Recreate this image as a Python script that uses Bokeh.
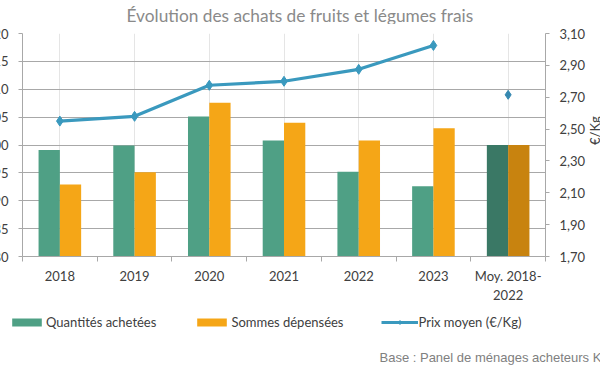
import math
from bokeh.plotting import figure
from bokeh.layouts import column
from bokeh.models import (Range1d, LinearAxis, CategoricalAxis, FixedTicker,
                          CustomJSTickFormatter, Legend, LegendItem, Label,
                          ColumnDataSource, FactorRange)
from bokeh.transform import dodge
from bokeh.embed import file_html
from bokeh.resources import INLINE

# ---------------- data ----------------
title_text = "Évolution des achats de fruits et légumes frais"
years = ["2018", "2019", "2020", "2021", "2022", "2023"]
avg_label = "Moy. 2018-\n2022"
qty = [99.1, 99.9, 105.1, 100.8, 95.2, 92.6]          # Quantités achetées (indice)
spend = [92.9, 95.1, 107.6, 104.0, 100.8, 103.0]      # Sommes dépensées (indice)
price = [2.55, 2.58, 2.775, 2.80, 2.875, 3.025]       # Prix moyen (€/Kg)
avg_qty = [100.0]
avg_spend = [100.0]
avg_price = [2.715]
left_ticks = [80, 85, 90, 95, 100, 105, 110, 115, 120]
price_ticks = [1.70, 1.90, 2.10, 2.30, 2.50, 2.70, 2.90, 3.10]
legend_labels = ["Quantités achetées", "Sommes dépensées", "Prix moyen (€/Kg)"]
unit_label = "€/Kg"
source_note = "Base : Panel de ménages acheteurs Kantar"

# ---------------- style ----------------
GREEN = "#4FA085"
ORANGE = "#F5A617"
DKGREEN = "#3A7865"
DKORANGE = "#C8830F"
BLUE = "#3A99BE"
GRID = "#A8A8A8"
TXT = "#404040"
FONT = "Lato"
FS = "13px"

factors = years + [avg_label]
n = len(factors)

SHIFT_X = 22                         # the chart is cropped on its left side
FL, FR, FT, FB = 22, 545, 33, 257    # frame edges in page px
TOP_H = 24                           # height of the title strip
BOT_Y = 305                          # page y where the legend strip starts
PAGE_H = 370
ymin, ymax = left_ticks[0], left_ticks[-1]

BR = 90
W = FR + SHIFT_X + BR


def no_align(f):
    try:
        f.frame_align = False
    except Exception:
        pass


def strip(y0, y1):
    f = figure(width=W, height=y1 - y0, x_range=Range1d(-SHIFT_X, W - SHIFT_X),
               y_range=Range1d(y1, y0), x_axis_location=None, y_axis_location=None,
               output_backend="svg", toolbar_location=None,
               min_border=0, min_border_left=0, min_border_right=0,
               min_border_top=0, min_border_bottom=0)
    f.outline_line_color = None
    f.xgrid.visible = False
    f.ygrid.visible = False
    f.background_fill_color = "white"
    f.border_fill_color = "white"
    no_align(f)
    return f


# ---------------- title strip ----------------
p0 = strip(0, TOP_H)
p0.add_layout(Label(x=126, y=15, text=title_text, text_align="left",
                    text_baseline="alphabetic", text_font=FONT,
                    text_font_size="17.3px", text_color="#8A8A8A"))

# ---------------- main chart ----------------
p = figure(width=W, height=BOT_Y - TOP_H, x_range=FactorRange(*factors),
           y_range=Range1d(ymin, ymax), x_axis_location=None,
           output_backend="svg", toolbar_location=None,
           min_border_left=FL + SHIFT_X, min_border_right=BR,
           min_border_top=FT - TOP_H, min_border_bottom=BOT_Y - FB)
p.outline_line_color = None
p.background_fill_color = "white"
p.border_fill_color = "white"
p.extra_y_ranges = {"price": Range1d(price_ticks[0], price_ticks[-1])}
no_align(p)


def style_axis(ax):
    ax.axis_line_color = GRID
    ax.major_tick_line_color = GRID
    ax.major_tick_out = 4
    ax.major_tick_in = 0
    ax.minor_tick_line_color = None
    ax.major_label_text_font = FONT
    ax.major_label_text_font_size = FS
    ax.major_label_text_color = TXT
    ax.major_label_standoff = 10


yl = p.yaxis[0]
yl.ticker = FixedTicker(ticks=left_ticks)
style_axis(yl)
p.ygrid.grid_line_color = GRID
p.ygrid.ticker = FixedTicker(ticks=left_ticks)

yr = LinearAxis(y_range_name="price", ticker=FixedTicker(ticks=price_ticks),
                formatter=CustomJSTickFormatter(code="return tick.toFixed(2).replace('.', ',');"))
style_axis(yr)
yr.axis_label = unit_label
yr.axis_label_standoff = 7
yr.axis_label_text_font = FONT
yr.axis_label_text_font_size = FS
yr.axis_label_text_font_style = "normal"
yr.axis_label_text_color = TXT
try:
    yr.axis_label_orientation = math.pi / 2
except Exception:
    pass
p.add_layout(yr, "right")

# tick marks between categories (synthetic category coordinates)
xt = LinearAxis(ticker=FixedTicker(ticks=list(range(n + 1))),
                formatter=CustomJSTickFormatter(code="return '';"))
style_axis(xt)
xt.major_label_text_font_size = "0px"
xt.major_label_standoff = 0
xt.major_tick_out = 5
p.add_layout(xt, "below")

xc = CategoricalAxis()
style_axis(xc)
xc.axis_line_color = None
xc.major_tick_line_color = None
xc.major_tick_out = 0
xc.major_label_standoff = 6
p.add_layout(xc, "below")

src = ColumnDataSource(dict(cat=years, qty=qty, spend=spend, price=price))
src_avg = ColumnDataSource(dict(cat=[avg_label], qty=avg_qty, spend=avg_spend, price=avg_price))
BW = 0.285
off = BW / 2

p.vbar(x=dodge("cat", -off, range=p.x_range), top="qty", bottom=ymin, width=BW,
       fill_color=GREEN, line_color=None, source=src)
p.vbar(x=dodge("cat", off, range=p.x_range), top="spend", bottom=ymin, width=BW,
       fill_color=ORANGE, line_color=None, source=src)
p.vbar(x=dodge("cat", -off, range=p.x_range), top="qty", bottom=ymin, width=BW,
       fill_color=DKGREEN, line_color=None, source=src_avg)
p.vbar(x=dodge("cat", off, range=p.x_range), top="spend", bottom=ymin, width=BW,
       fill_color=DKORANGE, line_color=None, source=src_avg)
p.line(x="cat", y="price", y_range_name="price", source=src,
       line_color=BLUE, line_width=3.2)
p.scatter(x="cat", y="price", y_range_name="price", source=src, marker="diamond",
          size=10, fill_color=BLUE, line_color=BLUE)
p.scatter(x="cat", y="price", y_range_name="price", source=src_avg, marker="diamond",
          size=9, fill_color="#3588B0", line_color="#3588B0")

# ---------------- legend + source strip ----------------
p2 = strip(BOT_Y, PAGE_H)
# legend proxies: one hidden point outside the visible strip, so the legend can draw its glyphs
proxy = ColumnDataSource(dict(x=[-10000.0], y=[-10000.0]))
g_q = p2.vbar(x="x", top="y", width=1, fill_color=GREEN, line_color=None, source=proxy)
g_s = p2.vbar(x="x", top="y", width=1, fill_color=ORANGE, line_color=None, source=proxy)
g_l = p2.line(x="x", y="y", line_color=BLUE, line_width=3, source=proxy)
g_m = p2.scatter(x="x", y="y", marker="diamond", size=7, fill_color=BLUE,
                 line_color=BLUE, source=proxy)

legend = Legend(items=[LegendItem(label=legend_labels[0], renderers=[g_q]),
                       LegendItem(label=legend_labels[1], renderers=[g_s]),
                       LegendItem(label=legend_labels[2], renderers=[g_l, g_m])],
                orientation="horizontal", location=(8 + SHIFT_X, PAGE_H - 330),
                glyph_width=37, glyph_height=10, label_standoff=1, spacing=37,
                padding=0, margin=0, border_line_color=None, background_fill_alpha=0,
                label_text_font=FONT, label_text_font_size=FS, label_text_color=TXT,
                label_height=16)
p2.add_layout(legend)

p2.add_layout(Label(x=379, y=357, text=source_note, text_align="left",
                    text_baseline="middle", text_font="Liberation Sans",
                    text_font_size="13px", text_color="#808080"))

page = column(p0, p, p2, spacing=0,
              styles={"margin-left": f"-{SHIFT_X}px", "margin-top": "0px"})

open("out.html", "w").write(file_html(page, INLINE))
